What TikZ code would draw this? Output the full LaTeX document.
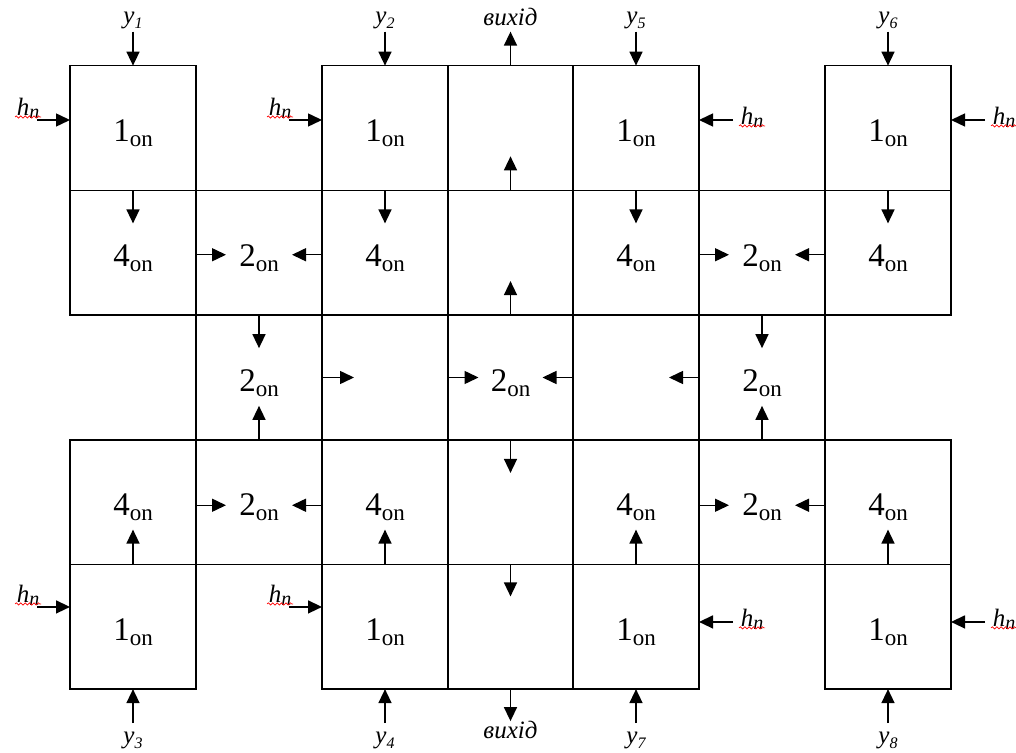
\documentclass[tikz,border=0pt]{standalone}
\usepackage{fontspec}
\setmainfont{Liberation Serif}
\usetikzlibrary{arrows.meta,decorations.pathmorphing}

\newcommand{\on}[1]{#1\raisebox{-2.5pt}{\fontsize{11.5}{12}\selectfont on}}
\newcommand{\isub}[2]{#1\raisebox{-2.5pt}{\fontsize{8}{9}\selectfont #2}}
\newcommand{\hn}{h\raisebox{-1.5pt}{\fontsize{10}{11}\selectfont n}}

\tikzset{
  cell/.style={draw, line width=0.75pt, minimum width=63pt, minimum height=62.35pt,
    inner sep=0pt, outer sep=0pt, text height=13.7pt, text depth=0pt,
    font=\fontsize{16.5}{18}\selectfont},
  arr/.style={-{Triangle[length=7pt,width=6.5pt]}, line width=0.75pt},
  inlbl/.style={inner sep=0.5pt, font=\fontsize{12.5}{14}\selectfont\itshape},
  spell/.style={draw=red, line width=0.35pt, decorate,
    decoration={snake, amplitude=0.55pt, segment length=2.2pt}}
}

\begin{document}
\begin{tikzpicture}[x=0.5pt, y=-0.5pt]
  \useasboundingbox (0,0) rectangle (1016,753);

  % Draw the top row of cells
  \node[cell] (c00) at (133,128) {\on{1}};
  \node[cell] (c02) at (385,128) {\on{1}};
  \node[cell] (c03) at (510.5,128) {};
  \node[cell] (c04) at (636,128) {\on{1}};
  \node[cell] (c06) at (888,128) {\on{1}};

  % Draw the second row
  \node[cell] (c10) at (133,252.75) {\on{4}};
  \node[cell] (c11) at (259,252.75) {\on{2}};
  \node[cell] (c12) at (385,252.75) {\on{4}};
  \node[cell] (c13) at (510.5,252.75) {};
  \node[cell] (c14) at (636,252.75) {\on{4}};
  \node[cell] (c15) at (762,252.75) {\on{2}};
  \node[cell] (c16) at (888,252.75) {\on{4}};

  % Draw the middle row
  \node[cell] (c21) at (259,377.5) {\on{2}};
  \node[cell] (c22) at (385,377.5) {};
  \node[cell] (c23) at (510.5,377.5) {\on{2}};
  \node[cell] (c24) at (636,377.5) {};
  \node[cell] (c25) at (762,377.5) {\on{2}};

  % Draw the fourth row
  \node[cell] (c30) at (133,502.25) {\on{4}};
  \node[cell] (c31) at (259,502.25) {\on{2}};
  \node[cell] (c32) at (385,502.25) {\on{4}};
  \node[cell] (c33) at (510.5,502.25) {};
  \node[cell] (c34) at (636,502.25) {\on{4}};
  \node[cell] (c35) at (762,502.25) {\on{2}};
  \node[cell] (c36) at (888,502.25) {\on{4}};

  % Draw the bottom row
  \node[cell] (c40) at (133,626.75) {\on{1}};
  \node[cell] (c42) at (385,626.75) {\on{1}};
  \node[cell] (c43) at (510.5,626.75) {};
  \node[cell] (c44) at (636,626.75) {\on{1}};
  \node[cell] (c46) at (888,626.75) {\on{1}};

  % Draw the inputs entering from the top
  \draw[arr] ([yshift=17pt]c00.north) node[inlbl, above=0.5pt] (ly1) {\isub{y}{1}} -- (c00.north);
  \draw[arr] ([yshift=17pt]c02.north) node[inlbl, above=0.5pt] (ly2) {\isub{y}{2}} -- (c02.north);
  \draw[arr] ([yshift=17pt]c04.north) node[inlbl, above=0.5pt] (ly5) {\isub{y}{5}} -- (c04.north);
  \draw[arr] ([yshift=17pt]c06.north) node[inlbl, above=0.5pt] (ly6) {\isub{y}{6}} -- (c06.north);

  % Draw the inputs entering from the bottom
  \draw[arr] ([yshift=-17pt]c40.south) node[inlbl, below=3.5pt] (ly3) {\isub{y}{3}} -- (c40.south);
  \draw[arr] ([yshift=-17pt]c42.south) node[inlbl, below=3.5pt] (ly4) {\isub{y}{4}} -- (c42.south);
  \draw[arr] ([yshift=-17pt]c44.south) node[inlbl, below=3.5pt] (ly7) {\isub{y}{7}} -- (c44.south);
  \draw[arr] ([yshift=-17pt]c46.south) node[inlbl, below=3.5pt] (ly8) {\isub{y}{8}} -- (c46.south);

  % Draw the h inputs on the sides
  \draw[arr] ([xshift=-16.5pt,yshift=4pt]c00.west) node[inlbl, anchor=south east, xshift=2pt] (hn1) {\hn} -- ([yshift=4pt]c00.west);
  \draw[arr] ([xshift=-16.5pt,yshift=4pt]c02.west) node[inlbl, anchor=south east, xshift=2pt] (hn2) {\hn} -- ([yshift=4pt]c02.west);
  \draw[arr] ([xshift=17pt,yshift=4pt]c04.east) node[inlbl, anchor=west, xshift=3pt, yshift=1.5pt] (hn3) {\hn} -- ([yshift=4pt]c04.east);
  \draw[arr] ([xshift=17pt,yshift=4pt]c06.east) node[inlbl, anchor=west, xshift=3pt, yshift=1.5pt] (hn4) {\hn} -- ([yshift=4pt]c06.east);
  \draw[arr] ([xshift=-16.5pt,yshift=9.9pt]c40.west) node[inlbl, anchor=south east, xshift=2pt] (hn5) {\hn} -- ([yshift=9.9pt]c40.west);
  \draw[arr] ([xshift=-16.5pt,yshift=9.9pt]c42.west) node[inlbl, anchor=south east, xshift=2pt] (hn6) {\hn} -- ([yshift=9.9pt]c42.west);
  \draw[arr] ([xshift=17pt,yshift=2.4pt]c44.east) node[inlbl, anchor=west, xshift=3pt, yshift=1.5pt] (hn7) {\hn} -- ([yshift=2.4pt]c44.east);
  \draw[arr] ([xshift=17pt,yshift=2.4pt]c46.east) node[inlbl, anchor=west, xshift=3pt, yshift=1.5pt] (hn8) {\hn} -- ([yshift=2.4pt]c46.east);

  % Spelling marks under the h labels
  \draw[spell] ([yshift=1.5pt]hn1.south west) -- ([yshift=1.5pt]hn1.south east);
  \draw[spell] ([yshift=1.5pt]hn2.south west) -- ([yshift=1.5pt]hn2.south east);
  \draw[spell] ([yshift=1.5pt]hn3.south west) -- ([yshift=1.5pt]hn3.south east);
  \draw[spell] ([yshift=1.5pt]hn4.south west) -- ([yshift=1.5pt]hn4.south east);
  \draw[spell] ([yshift=1.5pt]hn5.south west) -- ([yshift=1.5pt]hn5.south east);
  \draw[spell] ([yshift=1.5pt]hn6.south west) -- ([yshift=1.5pt]hn6.south east);
  \draw[spell] ([yshift=1.5pt]hn7.south west) -- ([yshift=1.5pt]hn7.south east);
  \draw[spell] ([yshift=1.5pt]hn8.south west) -- ([yshift=1.5pt]hn8.south east);

  % Draw the arrows from the first to the fourth cells
  \draw[arr] (c10.north) -- ([yshift=-16.5pt]c10.north);
  \draw[arr] (c12.north) -- ([yshift=-16.5pt]c12.north);
  \draw[arr] (c14.north) -- ([yshift=-16.5pt]c14.north);
  \draw[arr] (c16.north) -- ([yshift=-16.5pt]c16.north);
  \draw[arr] (c30.south) -- ([yshift=17.5pt]c30.south);
  \draw[arr] (c32.south) -- ([yshift=17.5pt]c32.south);
  \draw[arr] (c34.south) -- ([yshift=17.5pt]c34.south);
  \draw[arr] (c36.south) -- ([yshift=17.5pt]c36.south);

  % Draw the arrows into the second cells
  \draw[arr] ([yshift=-1pt]c11.west) -- ([xshift=15pt,yshift=-1pt]c11.west);
  \draw[arr] ([yshift=-1pt]c11.east) -- ([xshift=-15pt,yshift=-1pt]c11.east);
  \draw[arr] ([yshift=-1pt]c15.west) -- ([xshift=15pt,yshift=-1pt]c15.west);
  \draw[arr] ([yshift=-1pt]c15.east) -- ([xshift=-15pt,yshift=-1pt]c15.east);
  \draw[arr] ([yshift=-1.5pt]c31.west) -- ([xshift=15pt,yshift=-1.5pt]c31.west);
  \draw[arr] ([yshift=-1.5pt]c31.east) -- ([xshift=-15pt,yshift=-1.5pt]c31.east);
  \draw[arr] ([yshift=-1.5pt]c35.west) -- ([xshift=15pt,yshift=-1.5pt]c35.west);
  \draw[arr] ([yshift=-1.5pt]c35.east) -- ([xshift=-15pt,yshift=-1.5pt]c35.east);
  \draw[arr] (c21.north) -- ([yshift=-16.5pt]c21.north);
  \draw[arr] (c21.south) -- ([yshift=17pt]c21.south);
  \draw[arr] (c25.north) -- ([yshift=-16.5pt]c25.north);
  \draw[arr] (c25.south) -- ([yshift=17pt]c25.south);

  % Draw the arrows towards the centre
  \draw[arr] (c22.west) -- ([xshift=16pt]c22.west);
  \draw[arr] (c23.west) -- ([xshift=15.5pt]c23.west);
  \draw[arr] (c23.east) -- ([xshift=-15.5pt]c23.east);
  \draw[arr] (c24.east) -- ([xshift=-15pt]c24.east);

  % Draw the output column
  \draw[arr] (c13.south) -- ([yshift=17pt]c13.south);
  \draw[arr] (c03.south) -- ([yshift=17pt]c03.south);
  \draw[arr] (c03.north) -- ([yshift=17pt]c03.north) node[inlbl, above=2pt] (out1) {вихід};
  \draw[arr] (c33.north) -- ([yshift=-16.5pt]c33.north);
  \draw[arr] (c43.north) -- ([yshift=-16pt]c43.north);
  \draw[arr] (c43.south) -- ([yshift=-16pt]c43.south) node[inlbl, below=-1pt] (out2) {вихід};

\end{tikzpicture}
\end{document}
